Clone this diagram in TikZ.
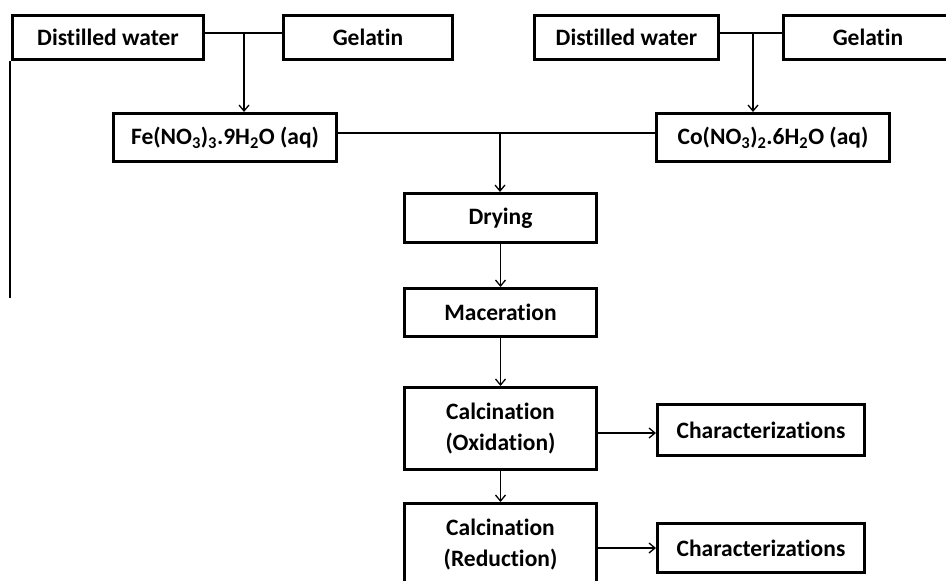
\documentclass[tikz,border=0pt]{standalone}
\usepackage{fontspec}
\setmainfont{Carlito}[Ligatures={NoCommon}]
\usepackage{tikz}
\usetikzlibrary{positioning,calc,arrows.meta}

\begin{document}
\begin{tikzpicture}[
	x=1pt, y=-1pt,
	box/.style={draw=black, line width=3pt, fill=white, inner sep=0pt, align=center,
		font=\fontsize{23.5}{31}\selectfont\bfseries},
	link/.style={black, line width=1.3pt},
	arrow/.style={link, -{Straight Barb[length=6pt,width=10pt,line width=1.3pt]}}
	]
	\useasboundingbox (0,0) rectangle (946,581);
	\clip (0,0) rectangle (946,581);
	
	% ===== TOP ROW =====
	\node[box, minimum width=191pt, minimum height=44pt] (dw1)  at (108,37.5)   {Distilled water};
	\node[box, minimum width=169pt, minimum height=44pt] (gel1) at (368,37.5)   {Gelatin};
	\node[box, minimum width=184pt, minimum height=44pt] (dw2)  at (626.5,37.5) {Distilled water};
	\node[box, minimum width=169pt, minimum height=44pt] (gel2) at (868,37.5)   {Gelatin};
	
	% ===== SALT SOLUTIONS =====
	\node[box, minimum width=223pt, minimum height=48pt] (fe) at (225,137.5)
		{Fe(NO\textsubscript{3})\textsubscript{3}.9H\textsubscript{2}O (aq)};
	\node[box, minimum width=233pt, minimum height=48pt] (co) at (773,137.5)
		{Co(NO\textsubscript{3})\textsubscript{2}.6H\textsubscript{2}O (aq)};
	
	% ===== PROCESS CHAIN =====
	\node[box, minimum width=192pt, minimum height=49pt] (dry) at (500.5,218)   {Drying};
	\node[box, minimum width=192pt, minimum height=48pt] (mac) at (500.5,312.5) {Maceration};
	\node[box, minimum width=192pt, minimum height=82pt] (ox)  at (500.5,428.5) {Calcination\\(Oxidation)};
	\node[box, minimum width=192pt, minimum height=82pt] (red) at (500.5,544.5) {Calcination\\(Reduction)};
	
	% ===== CHARACTERIZATIONS =====
	\node[box, minimum width=207pt, minimum height=51pt] (char1) at (761,430) {Characterizations};
	\node[box, minimum width=207pt, minimum height=49pt] (char2) at (761,548) {Characterizations};
	
	% ===== JUNCTIONS =====
	\coordinate (j1) at (244,33);
	\coordinate (j2) at (753,33);
	\coordinate (j3) at (500,133);
	\coordinate (lend) at (10,298);
	
	% ===== CONNECTORS =====
	\draw[link] (dw1.east |- j1) -- (gel1.west |- j1);
	\draw[arrow] (j1) -- (j1 |- fe.north);
	\draw[link] (dw2.east |- j2) -- (gel2.west |- j2);
	\draw[arrow] (j2) -- (j2 |- co.north);
	
	\draw[link] (fe.east |- j3) -- (co.west |- j3);
	\draw[arrow] (j3) -- (j3 |- dry.north);
	\draw[arrow] (dry) -- (mac);
	\draw[arrow] (mac) -- (ox);
	\draw[arrow] (ox) -- (red);
	
	\draw[arrow] ($(ox.east)+(0,4.5)$) -- ($(ox.east -| char1.west)+(0,4.5)$);
	\draw[arrow] ($(red.east)+(0,3.5)$) -- ($(red.east -| char2.west)+(0,3.5)$);
	
	\draw[link] (lend |- dw1.south) -- (lend);
\end{tikzpicture}
\end{document}
